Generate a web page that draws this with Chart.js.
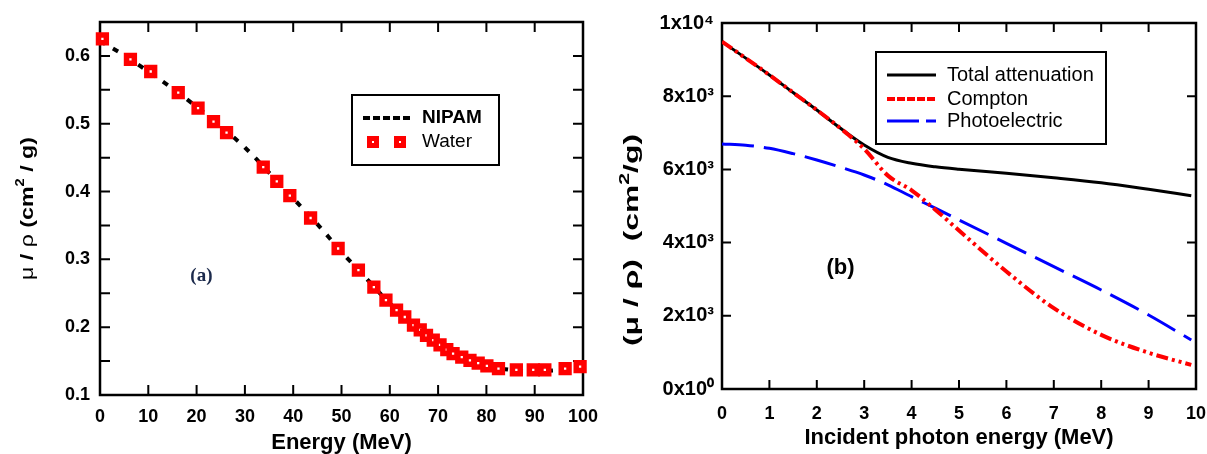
<!DOCTYPE html>
<html>
<head>
<meta charset="utf-8">
<script src="https://cdn.jsdelivr.net/npm/chart.js@4.4.0/dist/chart.umd.min.js"></script>
<style>
    body { margin: 0; background: #fff; }
    .box { position: absolute; top: 0; height: 454px; }
    #boxA { left: 0; width: 600px; }
    #boxB { left: 600px; width: 607px; }
</style>
</head>
<body>
<div class="box" id="boxA"><canvas id="chartA"></canvas></div>
<div class="box" id="boxB"><canvas id="chartB"></canvas></div>
<script>
const FONT = 'Arial, "Liberation Sans", sans-serif';

// (a) mass attenuation, NIPAM gel vs water
const nipamEnergy = [0, 5, 10, 15, 20, 25, 30, 35, 40, 45, 50, 55, 60, 65, 70, 75, 80, 85, 90, 95, 100];
const nipamMu = [0.622, 0.601, 0.577, 0.552, 0.525, 0.496, 0.465, 0.428, 0.390, 0.352, 0.311, 0.273, 0.235, 0.203, 0.177, 0.157, 0.144, 0.137, 0.135, 0.137, 0.141];
const waterEnergy = [0.5, 6.3, 10.5, 16.2, 20.3, 23.5, 26.2, 33.8, 36.6, 39.3, 43.6, 49.3, 53.5, 56.7, 59.2, 61.4,
    63.1, 64.9, 66.3, 67.6, 69.0, 70.4, 71.8, 73.1, 74.9, 76.6, 78.3, 80.1, 82.5, 86.2, 89.7, 92.1, 96.3, 99.4];
const waterMu = [0.625, 0.595, 0.577, 0.546, 0.523, 0.503, 0.487, 0.436, 0.415, 0.394, 0.361, 0.316, 0.284, 0.259, 0.240, 0.225,
    0.215, 0.203, 0.196, 0.188, 0.181, 0.174, 0.167, 0.161, 0.156, 0.151, 0.147, 0.143, 0.139, 0.137, 0.137, 0.137, 0.139, 0.142];
const xTicksA = ['0', '10', '20', '30', '40', '50', '60', '70', '80', '90', '100'];
const yTicksA = ['0.1', '0.2', '0.3', '0.4', '0.5', '0.6'];

// (b) attenuation components vs photon energy
const photonEnergy = [0, 0.5, 1, 1.5, 2, 2.5, 3, 3.5, 4, 4.5, 5, 6, 7, 8, 9, 9.9];
const totalAtt = [9490, 9040, 8580, 8100, 7623, 7123, 6667, 6330, 6167, 6070, 6003, 5893, 5773, 5637, 5456, 5281];
const compton = [9490, 9040, 8580, 8100, 7623, 7123, 6560, 5830, 5430, 4900, 4330, 3210, 2210, 1480, 990, 660];
const photoelectric = [6694, 6660, 6576, 6430, 6257, 6060, 5847, 5580, 5254, 4940, 4617, 3981, 3342, 2705, 2022, 1339];
const xTicksB = ['0', '1', '2', '3', '4', '5', '6', '7', '8', '9', '10'];
const yTicksB = ['0x10⁰', '2x10³', '4x10³', '6x10³', '8x10³', '1x10⁴'];

function pts(xs, ys) {
    return xs.map((x, i) => ({x: x, y: ys[i]}));
}

// frame box + inward ticks on all four sides
const framePlugin = {
    id: 'frame',
    beforeDatasetsDraw(chart, args, o) {
        const {ctx, chartArea: a, scales: {x, y}} = chart;
        ctx.save();
        ctx.strokeStyle = '#000';
        ctx.lineWidth = o.tickWidth;
        ctx.beginPath();
        x.ticks.forEach(t => {
            const px = x.getPixelForValue(t.value);
            ctx.moveTo(px, a.bottom); ctx.lineTo(px, a.bottom - o.tickLen);
            ctx.moveTo(px, a.top); ctx.lineTo(px, a.top + o.tickLen);
        });
        y.ticks.forEach(t => {
            const py = y.getPixelForValue(t.value);
            ctx.moveTo(a.left, py); ctx.lineTo(a.left + o.tickLen, py);
            ctx.moveTo(a.right, py); ctx.lineTo(a.right - o.tickLen, py);
        });
        ctx.stroke();
        ctx.lineWidth = o.frameWidth;
        ctx.strokeRect(a.left, a.top, a.right - a.left, a.bottom - a.top);
        ctx.restore();
    }
};

// boxed legend inside the plot
const boxLegend = {
    id: 'boxLegend',
    afterDatasetsDraw(chart, args, o) {
        const ctx = chart.ctx;
        const [x0, y0, x1, y1] = o.box;
        ctx.save();
        ctx.fillStyle = '#fff';
        ctx.fillRect(x0, y0, x1 - x0, y1 - y0);
        ctx.strokeStyle = '#000';
        ctx.lineWidth = 2;
        ctx.strokeRect(x0, y0, x1 - x0, y1 - y0);
        o.items.forEach((it, i) => {
            const ds = chart.data.datasets.find(d => d.label === it.label);
            const y = o.rows[i];
            if (it.markers) {
                it.markers.forEach(mx => {
                    ctx.fillStyle = ds.backgroundColor;
                    ctx.fillRect(mx - 3.5, y - 3.5, 7, 7);
                    ctx.strokeStyle = ds.borderColor;
                    ctx.lineWidth = 5;
                    ctx.strokeRect(mx - 3.5, y - 3.5, 7, 7);
                });
            } else {
                ctx.strokeStyle = ds.borderColor;
                ctx.lineWidth = it.width;
                ctx.setLineDash(it.dash);
                ctx.beginPath();
                ctx.moveTo(o.lineX[0], y);
                ctx.lineTo(o.lineX[1], y);
                ctx.stroke();
                ctx.setLineDash([]);
            }
            ctx.fillStyle = '#000';
            ctx.font = it.font;
            ctx.textBaseline = 'middle';
            ctx.textAlign = 'left';
            ctx.fillText(ds.label, o.textX, y);
        });
        ctx.restore();
    }
};

// rotated y title (mixed fonts, stretched to length) and panel tag
const notesPlugin = {
    id: 'notes',
    afterDraw(chart, args, o) {
        const {ctx, scales: {x, y}} = chart;
        ctx.save();
        ctx.fillStyle = '#000';
        ctx.textBaseline = 'middle';
        ctx.textAlign = 'left';
        let total = 0;
        o.title.forEach(p => { ctx.font = p.font; total += ctx.measureText(p.text).width; });
        ctx.translate(o.titleX, o.titleY);
        ctx.rotate(-Math.PI / 2);
        ctx.scale(o.titleLen / total, 1);
        let cx = -total / 2;
        o.title.forEach(p => {
            ctx.font = p.font;
            ctx.fillText(p.text, cx, p.sup ? -7 : 0);
            cx += ctx.measureText(p.text).width;
        });
        ctx.restore();

        ctx.save();
        ctx.fillStyle = o.tag.color;
        ctx.font = o.tag.font;
        ctx.textAlign = 'center';
        ctx.textBaseline = 'middle';
        ctx.fillText(o.tag.text, x.getPixelForValue(o.tag.x), y.getPixelForValue(o.tag.y));
        ctx.restore();
    }
};

const noGrid = {display: false, drawTicks: false};

// fixed axis boxes so the plot area lands where the figure has it
function fixX(h) {
    return s => { s.height = h; s.paddingLeft = 0; s.paddingRight = 0; };
}
function fixY(w) {
    return s => { s.width = w; s.paddingTop = 0; s.paddingBottom = 0; };
}

new Chart(document.getElementById('chartA'), {
    type: 'scatter',
    data: {
        datasets: [{
            label: 'NIPAM',
            data: pts(nipamEnergy, nipamMu),
            showLine: true,
            borderColor: '#000',
            borderWidth: 4,
            borderDash: [6, 9],
            pointRadius: 0,
            cubicInterpolationMode: 'monotone',
            order: 1
        }, {
            label: 'Water',
            data: pts(waterEnergy, waterMu),
            pointStyle: 'rect',
            pointRadius: 5.5,
            borderWidth: 5.5,
            borderColor: '#ff0000',
            backgroundColor: '#ffffff',
            clip: false,
            order: 0
        }]
    },
    options: {
        responsive: true,
        maintainAspectRatio: false,
        animation: false,
        layout: {padding: {left: 0, right: 17, top: 22, bottom: 0}},
        plugins: {
            legend: {display: false},
            tooltip: {enabled: false},
            frame: {tickLen: 10, tickWidth: 2, frameWidth: 2.5},
            boxLegend: {
                box: [352, 95, 499, 165],
                rows: [118, 142],
                lineX: [363, 410],
                textX: 422,
                items: [
                    {label: 'NIPAM', width: 4, dash: [7, 3], font: 'bold 19px ' + FONT},
                    {label: 'Water', markers: [373, 400], font: '19px ' + FONT}
                ]
            },
            notes: {
                titleX: 28, titleY: 208.5, titleLen: 143,
                title: [
                    {text: 'μ', font: '19px ' + FONT},
                    {text: ' / ', font: 'bold 19px ' + FONT},
                    {text: 'ρ', font: '19px ' + FONT},
                    {text: ' (cm', font: 'bold 19px ' + FONT},
                    {text: '2', font: 'bold 12px ' + FONT, sup: true},
                    {text: ' / g)', font: 'bold 19px ' + FONT}
                ],
                tag: {text: '(a)', x: 21, y: 0.275, color: '#1c2a4c', font: 'bold 19px "Liberation Serif", "Times New Roman", serif'}
            }
        },
        scales: {
            x: {
                type: 'linear', min: 0, max: 100,
                afterFit: fixX(59),
                grid: noGrid, border: {display: false},
                ticks: {
                    stepSize: 10, padding: 11, color: '#000', autoSkip: false, maxRotation: 0,
                    font: {family: FONT, size: 18, weight: 'bold'},
                    callback: v => xTicksA[Math.round(v / 10)]
                },
                title: {
                    display: true, text: 'Energy (MeV)', color: '#000', padding: 0,
                    font: {family: FONT, size: 22, weight: 'bold', lineHeight: 1}
                }
            },
            y: {
                type: 'linear', min: 0.1, max: 0.65,
                afterFit: fixY(100),
                grid: noGrid, border: {display: false},
                ticks: {
                    stepSize: 0.05, padding: 10, color: '#000', autoSkip: false,
                    font: {family: FONT, size: 18, weight: 'bold'},
                    callback: v => {
                        const i = Math.round(v * 10);
                        return Math.abs(v * 10 - i) < 1e-6 && i >= 1 && i <= 6 ? yTicksA[i - 1] : '';
                    }
                }
            }
        }
    },
    plugins: [framePlugin, boxLegend, notesPlugin]
});

new Chart(document.getElementById('chartB'), {
    type: 'scatter',
    data: {
        datasets: [{
            label: 'Total attenuation',
            data: pts(photonEnergy, totalAtt),
            showLine: true,
            borderColor: '#000',
            borderWidth: 3,
            pointRadius: 0,
            cubicInterpolationMode: 'monotone',
            order: 1
        }, {
            label: 'Compton',
            data: pts(photonEnergy, compton),
            showLine: true,
            borderColor: '#ff0000',
            borderWidth: 4,
            borderDash: [12, 4, 3, 4, 3, 4],
            pointRadius: 0,
            cubicInterpolationMode: 'monotone',
            order: 0
        }, {
            label: 'Photoelectric',
            data: pts(photonEnergy, photoelectric),
            showLine: true,
            borderColor: '#0000ff',
            borderWidth: 3,
            borderDash: [32, 10],
            pointRadius: 0,
            cubicInterpolationMode: 'monotone',
            order: 2
        }]
    },
    options: {
        responsive: true,
        maintainAspectRatio: false,
        animation: false,
        layout: {padding: {left: 0, right: 11, top: 23, bottom: 0}},
        plugins: {
            legend: {display: false},
            tooltip: {enabled: false},
            frame: {tickLen: 9, tickWidth: 2, frameWidth: 2.5},
            boxLegend: {
                box: [276, 52, 506, 144],
                rows: [75, 99, 121],
                lineX: [287, 336],
                textX: 347,
                items: [
                    {label: 'Total attenuation', width: 3, dash: [], font: '20px ' + FONT},
                    {label: 'Compton', width: 4, dash: [8, 2], font: '20px ' + FONT},
                    {label: 'Photoelectric', width: 3, dash: [32, 7], font: '20px ' + FONT}
                ]
            },
            notes: {
                titleX: 32, titleY: 240, titleLen: 212,
                title: [
                    {text: '(μ / ρ)  (cm', font: 'bold 21px ' + FONT},
                    {text: '2', font: 'bold 14px ' + FONT, sup: true},
                    {text: '/g)', font: 'bold 21px ' + FONT}
                ],
                tag: {text: '(b)', x: 2.5, y: 3300, color: '#000', font: 'bold 22px ' + FONT}
            }
        },
        scales: {
            x: {
                type: 'linear', min: 0, max: 10,
                afterFit: fixX(65),
                grid: noGrid, border: {display: false},
                ticks: {
                    stepSize: 1, padding: 14, color: '#000', autoSkip: false, maxRotation: 0,
                    font: {family: FONT, size: 18, weight: 'bold'},
                    callback: v => xTicksB[Math.round(v)]
                },
                title: {
                    display: true, text: 'Incident photon energy (MeV)', color: '#000', padding: {bottom: 5},
                    font: {family: FONT, size: 22, weight: 'bold', lineHeight: 1}
                }
            },
            y: {
                type: 'linear', min: 0, max: 10000,
                afterFit: fixY(122),
                grid: noGrid, border: {display: false},
                ticks: {
                    stepSize: 2000, padding: 8, color: '#000', autoSkip: false,
                    font: {family: FONT, size: 20, weight: 'bold'},
                    callback: v => yTicksB[Math.round(v / 2000)]
                }
            }
        }
    },
    plugins: [framePlugin, boxLegend, notesPlugin]
});
</script>
</body>
</html>
